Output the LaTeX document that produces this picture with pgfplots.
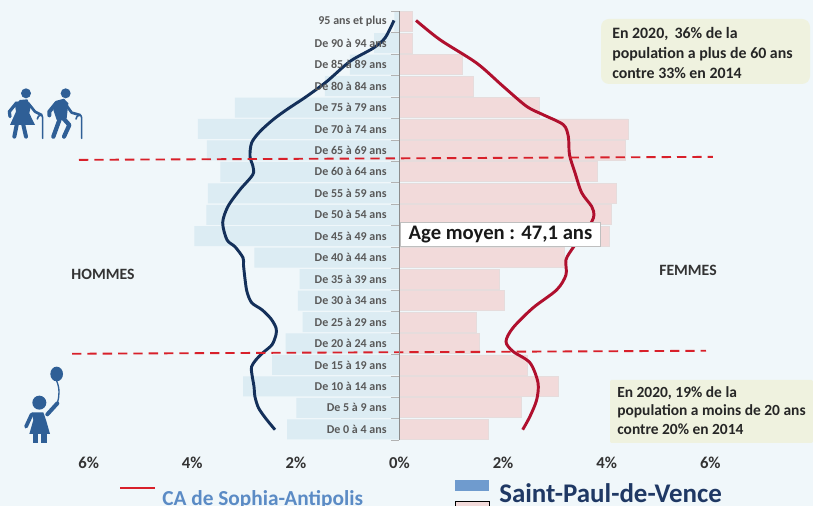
\documentclass[border=0pt]{standalone}
\usepackage{pgfplots}
\pgfplotsset{compat=1.18}
\usepackage{pgfplotstable}
\usepackage{fontspec}
\setmainfont{Carlito}

\definecolor{fond}{HTML}{F0F7FA}
\definecolor{barH}{HTML}{DCECF3}
\definecolor{barF}{HTML}{F2DADA}
\definecolor{bordF}{HTML}{E6DCDC}
\definecolor{marine}{HTML}{14305A}
\definecolor{rouge}{HTML}{B0102E}
\definecolor{tirets}{HTML}{D8202A}
\definecolor{encadre}{HTML}{EFF2DF}
\definecolor{icone}{HTML}{2F5F96}
\definecolor{titreA}{HTML}{5B8BC5}
\definecolor{titreB}{HTML}{1F3864}
\definecolor{legbleu}{HTML}{6F9BCE}

% age group index, share in %
\pgfplotstableread{
i hommes femmes
0 -2.17 1.71
1 -1.99 2.36
2 -3.02 3.06
3 -2.46 2.46
4 -2.20 1.55
5 -1.87 1.48
6 -1.96 2.02
7 -1.93 1.93
8 -2.80 3.18
9 -3.96 4.06
10 -3.73 4.10
11 -3.70 4.18
12 -3.46 3.83
13 -3.72 4.37
14 -3.89 4.41
15 -3.18 2.71
16 -1.44 1.42
17 -0.96 1.21
18 -0.49 0.24
19 -0.10 0.24
}\pyramide

\begin{document}
\begin{tikzpicture}
\useasboundingbox (0,-49.5pt) rectangle (609.75pt,330pt);
\clip (0,-49.5pt) rectangle (609.75pt,330pt);
\fill[fond] (0,-49.5pt) rectangle (609.75pt,330pt);

\begin{axis}[
    at={(0,0)}, anchor=south west,
    scale only axis, width=609.75pt, height=321.75pt,
    xmin=-7.712, xmax=7.983,
    ymin=-0.5, ymax=19.5,
    axis on top,
    axis x line=bottom,
    axis y line=center,
    axis line style={-, draw=black!45},
    x axis line style={draw=none},
    xtick={-6,-4,-2,0,2,4,6},
    xticklabels={6\%,4\%,2\%,0\%,2\%,4\%,6\%},
    xticklabel style={font=\fontsize{12.5}{14}\selectfont\bfseries, text=black!80, yshift=-9.5pt},
    x tick style={draw=none},
    ytick={0,...,19},
    yticklabels={De 0 à 4 ans,De 5 à 9 ans,De 10 à 14 ans,De 15 à 19 ans,De 20 à 24 ans,De 25 à 29 ans,De 30 à 34 ans,De 35 à 39 ans,De 40 à 44 ans,De 45 à 49 ans,De 50 à 54 ans,De 55 à 59 ans,De 60 à 64 ans,De 65 à 69 ans,De 70 à 74 ans,De 75 à 79 ans,De 80 à 84 ans,De 85 à 89 ans,De 90 à 94 ans,95 ans et plus},
    yticklabel style={font=\fontsize{9}{10}\selectfont\bfseries, text=black!65, inner sep=0pt, anchor=east, xshift=-9.5pt},
    major tick length=0pt,
    minor ytick={-0.5,0.5,...,19.5},
    minor tick length=6pt,
    y tick style={draw=black!30},
    ytick align=outside,
    xbar, bar width=15pt, bar shift=0pt,
    clip=false,
]
\addplot[fill=barH, draw=none] table[x=hommes, y=i] {\pyramide};
\addplot[fill=barF, draw=bordF, line width=0.6pt] table[x=femmes, y=i] {\pyramide};

% CA de Sophia-Antipolis, men
\addplot[xbar=false, ybar=false, sharp plot, marine, line width=2.2pt, smooth] coordinates {
(-2.403,-0.02) (-2.577,0.49) (-2.722,1.00) (-2.790,1.52) (-2.809,2.00)
(-2.847,2.54) (-2.857,2.91) (-2.770,3.24) (-2.635,3.57) (-2.461,3.94)
(-2.384,4.41) (-2.384,4.73) (-2.481,5.15) (-2.654,5.57) (-2.853,5.90)
(-2.944,6.41) (-2.983,7.02) (-3.012,7.67) (-3.021,8.00) (-3.176,8.51)
(-3.330,8.83) (-3.413,9.63) (-3.311,10.39) (-3.079,11.17) (-2.834,11.86)
(-2.828,12.25) (-2.886,12.72) (-2.853,13.36) (-2.693,13.88) (-2.442,14.43)
(-2.178,14.90) (-1.792,15.52) (-1.405,16.21) (-0.956,17.15) (-0.506,17.77)
(-0.280,18.24) (-0.106,19.06)
};
% CA de Sophia-Antipolis, women
\addplot[xbar=false, ybar=false, sharp plot, rouge, line width=2.2pt, smooth] coordinates {
(0.319,19.06) (0.782,18.16) (1.490,17.07) (2.004,15.98) (2.456,15.05)
(2.776,14.66) (3.162,14.20) (3.259,13.65) (3.282,12.80) (3.388,11.96)
(3.517,11.03) (3.710,10.39) (3.755,10.00) (3.710,9.67) (3.581,9.21)
(3.349,8.46) (3.214,7.90) (3.214,7.20) (3.035,6.50) (2.577,5.66)
(2.191,4.73) (2.056,4.09) (2.191,3.63) (2.519,3.10) (2.674,2.17)
(2.649,1.38) (2.519,0.60) (2.378,-0.02)
};
% seuils 60 ans et 20 ans
\addplot[xbar=false, sharp plot, tirets, line width=1.4pt, dash pattern=on 7pt off 4.5pt] coordinates {(-6.187,12.56) (6.052,12.70)};
\addplot[xbar=false, sharp plot, tirets, line width=1.4pt, dash pattern=on 7pt off 4.5pt] coordinates {(-6.322,3.52) (5.917,3.66)};
\end{axis}

% annotations, in pixels of the reference
\begin{scope}[x=0.75pt, y=-0.75pt, shift={(0,330pt)}]
  \node[draw=black!25, fill=white, line width=0.6pt, minimum width=150pt, minimum height=17.5pt,
        inner sep=0pt, font=\fontsize{15.5}{17}\selectfont\bfseries, text=black!90] at (500.5,234.5) {Age moyen : 47,1 ans};

  \fill[encadre, rounded corners=6pt] (601,19) rectangle (810,84);
  \fill[encadre, rounded corners=1pt] (610,380) rectangle (813,443);
  \node[anchor=west, align=left, font=\fontsize{11.9}{15.2}\selectfont\bfseries, text=black!85, inner sep=0pt] at (612,53)
    {En 2020,\, 36\% de la\\population a plus de 60 ans\\contre 33\% en 2014};
  \node[anchor=west, align=left, font=\fontsize{11.6}{14}\selectfont\bfseries, text=black!85, inner sep=0pt] at (617,410.5)
    {En 2020, 19\% de la\\population a moins de 20 ans\\contre 20\% en 2014};

  \node[font=\fontsize{11.8}{13}\selectfont\bfseries, text=black!80] at (103,274) {HOMMES};
  \node[font=\fontsize{11.8}{13}\selectfont\bfseries, text=black!80] at (688,270) {FEMMES};

  % legend
  \draw[tirets, line width=1.3pt] (120,488) -- (155,488);
  \node[anchor=base west, inner sep=0pt, font=\fontsize{16}{18}\selectfont\bfseries, text=titreA] at (162,505) {CA de Sophia-Antipolis};
  \fill[legbleu] (455,480) rectangle (489,491);
  \filldraw[fill=barF, draw=black, line width=0.6pt] (455,501) rectangle (489,515);
  \node[anchor=base west, inner sep=0pt, font=\fontsize{20.2}{22}\selectfont\bfseries, text=titreB] at (499,503) {Saint-Paul-de-Vence};
\end{scope}

% seniors
\begin{scope}[x=0.25pt, y=-0.25pt, shift={(0,330pt)}, yshift=-52.5pt, icone, line cap=round, line join=round]
  \fill (78,70) circle[radius=15];
  \fill (60,90) -- (82,88) -- (92,110) -- (88,130) -- (105,165) -- (30,165) -- (48,125) -- (45,105) -- cycle;
  \draw[line width=2.4pt] (50,98) -- (28,125) -- (30,140);
  \draw[line width=2pt] (85,100) -- (105,125) -- (125,135);
  \draw[line width=1.2pt] (112,147) .. controls (113,135) and (128,130) .. (128,143) -- (128,205);
  \draw[line width=3pt] (50,165) -- (43,200);
  \draw[line width=3pt] (70,165) -- (78,200);

  \fill (197,70) circle[radius=15];
  \fill (170,92) -- (192,86) -- (205,100) -- (200,145) -- (170,150) -- (160,120) -- cycle;
  \draw[line width=3pt] (170,98) -- (148,125) -- (148,136);
  \draw[line width=2pt] (195,100) -- (215,128) -- (240,135);
  \draw[line width=1.2pt] (228,147) .. controls (229,135) and (245,130) .. (245,143) -- (245,205);
  \draw[line width=3.2pt] (180,145) -- (160,200);
  \draw[line width=3.2pt] (190,145) -- (208,165) -- (192,200);
\end{scope}

% enfant au ballon
\begin{scope}[x=0.25pt, y=-0.25pt, shift={(0,330pt)}, yshift=-266.25pt, icone, line cap=round, line join=round]
  \fill (118,143) circle[radius=21];
  \fill (170,57) ellipse[x radius=19, y radius=22];
  \draw[line width=1pt] (170,78) .. controls (180,100) and (178,125) .. (172,145);
  \draw[line width=3pt] (172,145) -- (142,178);
  \fill (95,172) -- (130,172) -- (138,195) -- (150,237) -- (88,237) -- (100,195) -- cycle;
  \draw[line width=2.8pt] (95,178) -- (78,215);
  \fill (98,237) rectangle (113,263);
  \fill (123,237) rectangle (140,263);
\end{scope}
\end{tikzpicture}
\end{document}
